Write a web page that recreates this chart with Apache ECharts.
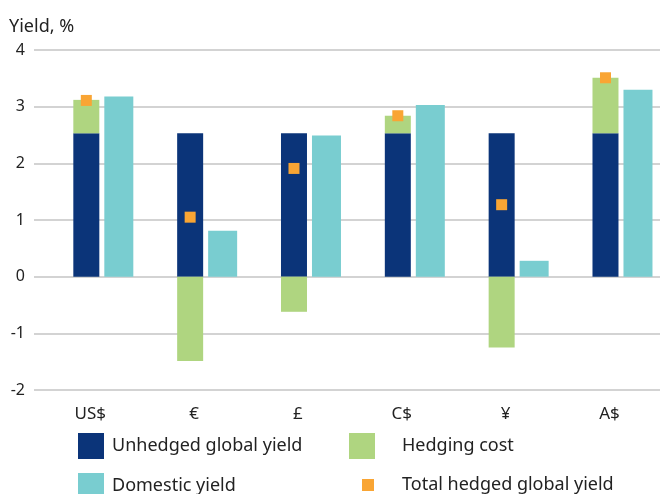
<!DOCTYPE html>
<html>
<head>
<meta charset="utf-8">
<script src="https://cdn.jsdelivr.net/npm/echarts@6/dist/echarts.min.js"></script>
<style>html,body{margin:0;padding:0;background:#fff}#c{width:660px;height:494px}</style>
</head>
<body>
<div id="c"></div>
<script>
const categories = ['US$', '€', '£', 'C$', '¥', 'A$'];
const unhedgedGlobalYield = [2.53, 2.53, 2.53, 2.53, 2.53, 2.53];
const hedgingCost = [0.59, -1.49, -0.62, 0.31, -1.25, 0.98];
const domesticYield = [3.18, 0.81, 2.49, 3.03, 0.28, 3.30];
const totalHedgedGlobalYield = [3.11, 1.05, 1.91, 2.84, 1.27, 3.51];
const yMin = -2, yMax = 4, yStep = 1;

const FONT = 'Noto Sans';
const TXT = '#222222';
const C_DARK = '#0B3479', C_GREEN = '#AFD580', C_TEAL = '#79CDD0', C_ORANGE = '#F9A534';

const chart = echarts.init(document.getElementById('c'), null, {renderer: 'canvas'});
const legendBase = (name, left, top, w, h, pad) => ({
  data: [name], left: left, top: top, padding: 0, itemWidth: w, itemHeight: h,
  icon: 'rect', selectedMode: false,
  textStyle: {fontFamily: FONT, fontSize: 18, color: TXT, padding: [0, 0, 0, pad]}
});
chart.setOption({
  animation: false,
  backgroundColor: '#ffffff',
  textStyle: {fontFamily: FONT},
  title: {text: 'Yield, %', left: 9, top: 18, padding: 0,
    textStyle: {fontFamily: FONT, fontSize: 18, fontWeight: 'normal', color: TXT}},
  legend: [
    legendBase('Unhedged global yield', 78, 433, 26, 26, 3),
    legendBase('Hedging cost', 349, 433, 26, 26, 22),
    legendBase('Domestic yield', 78, 473, 26, 26, 3),
    legendBase('Total hedged global yield', 362, 476, 12, 12, 23)
  ],
  grid: [
    {left: 51.4, top: 50, width: 623, height: 340, outerBoundsMode: 'none', containLabel: false},
    {left: 34, top: 50, right: 0, height: 340, outerBoundsMode: 'none', containLabel: false}
  ],
  xAxis: [
    {type: 'category', gridIndex: 0, data: categories,
     axisLine: {show: false}, axisTick: {show: false},
     axisLabel: {margin: 16, fontFamily: FONT, fontSize: 17, color: TXT, padding: [0, 26, 0, 0]}},
    {type: 'category', gridIndex: 1, data: categories, show: false}
  ],
  yAxis: [
    {type: 'value', gridIndex: 0, min: yMin, max: yMax, interval: yStep, show: false},
    {type: 'value', gridIndex: 1, min: yMin, max: yMax, interval: yStep,
     axisLine: {show: false}, axisTick: {show: false},
     axisLabel: {margin: 9, fontFamily: FONT, fontSize: 16, color: TXT},
     splitLine: {show: true, lineStyle: {color: '#c4c4c4', width: 1.5}}}
  ],
  series: [
    {name: 'Unhedged global yield', type: 'bar', xAxisIndex: 0, yAxisIndex: 0, stack: 'g',
     data: unhedgedGlobalYield, barWidth: 26, barGap: '19.2%', itemStyle: {color: C_DARK}},
    {name: 'Hedging cost', type: 'bar', xAxisIndex: 0, yAxisIndex: 0, stack: 'g',
     data: hedgingCost, barWidth: 26, barGap: '19.2%', itemStyle: {color: C_GREEN}},
    {name: 'Domestic yield', type: 'bar', xAxisIndex: 0, yAxisIndex: 0,
     data: domesticYield, barWidth: 29, barGap: '19.2%', itemStyle: {color: C_TEAL}},
    {name: 'Total hedged global yield', type: 'scatter', xAxisIndex: 0, yAxisIndex: 0,
     data: totalHedgedGlobalYield, symbol: 'rect', symbolSize: 11, symbolOffset: [-17, 0],
     itemStyle: {color: C_ORANGE, opacity: 1}, z: 5}
  ]
});
</script>
</body>
</html>
